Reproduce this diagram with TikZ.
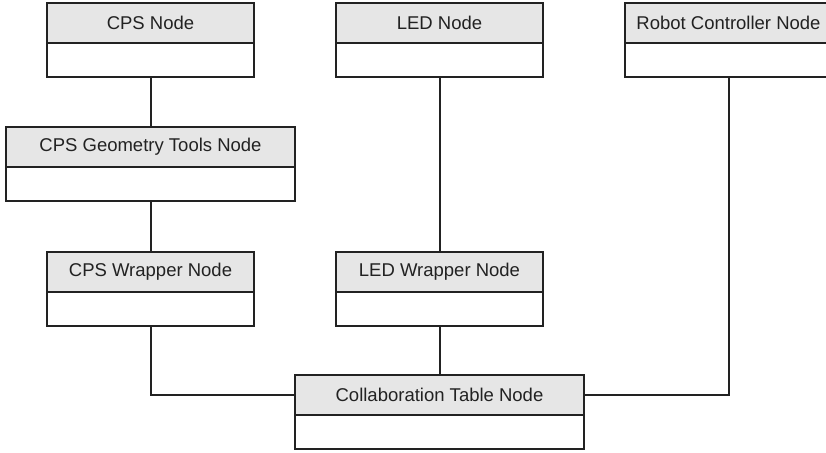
\documentclass[tikz,border=0pt]{standalone}
\usepackage{fontspec}
\setmainfont{Liberation Sans}
\usepackage{tikz}
\usetikzlibrary{positioning}
\definecolor{headgray}{HTML}{E6E6E6}
\definecolor{linegray}{HTML}{222222}

\begin{document}
\begin{tikzpicture}[
        x=1pt, y=-1pt,
        every node/.style={font=\fontsize{18.5}{21}\selectfont, text=linegray},
        head/.style={draw=linegray, line width=2pt, fill=headgray, outer sep=0pt,
                     minimum width=207pt, minimum height=40pt, anchor=north},
        wide/.style={minimum width=289pt},
        body/.style={draw=linegray, line width=2pt, fill=white, outer sep=0pt,
                     minimum height=34pt, below=0pt of #1},
        link/.style={draw=linegray, line width=2pt},
    ]
        \clip (0,0) rectangle (826,452);

        % --- top row ---
        \node[head] (cps)   at (150.5,3) {CPS Node};
        \node[body=cps, minimum width=207pt] (cpsb) {};
        \node[head] (led)   at (439.5,3) {LED Node};
        \node[body=led, minimum width=207pt] (ledb) {};
        \node[head] (robot) at (728.5,3) {Robot Controller Node};
        \node[body=robot, minimum width=207pt] (robotb) {};

        % --- geometry tools ---
        \node[head, wide] (geom) at (150.5,127) {CPS Geometry Tools Node};
        \node[body=geom, minimum width=289pt] (geomb) {};

        % --- wrappers ---
        \node[head] (cpsw) at (150.5,252) {CPS Wrapper Node};
        \node[body=cpsw, minimum width=207pt] (cpswb) {};
        \node[head] (ledw) at (439.5,252) {LED Wrapper Node};
        \node[body=ledw, minimum width=207pt] (ledwb) {};

        % --- collaboration table ---
        \node[head, wide] (table) at (439.5,375) {Collaboration Table Node};
        \node[body=table, minimum width=289pt] (tableb) {};

        % --- links ---
        \draw[link] (cpsb.south) -- (geom.north);
        \draw[link] (geomb.south) -- (cpsw.north);
        \draw[link] (ledb.south) -- (ledw.north);
        \draw[link] (ledwb.south) -- (table.north);
        \draw[link] (cpswb.south) |- (table.west);
        \draw[link] (robotb.south) |- (table.east);
    \end{tikzpicture}
\end{document}
